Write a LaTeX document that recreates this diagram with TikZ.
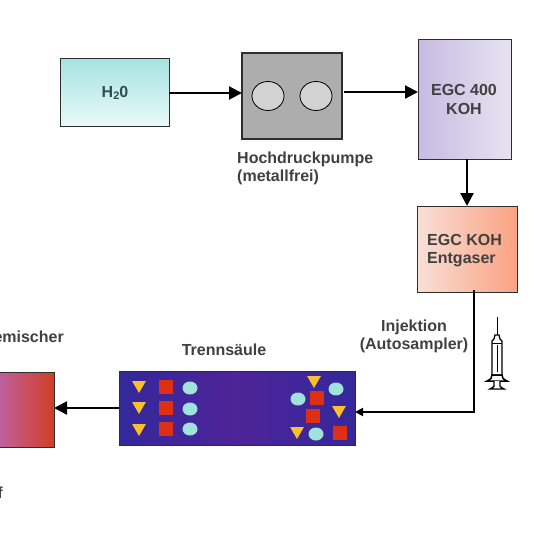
\documentclass[tikz,border=0pt]{standalone}
\usepackage{fontspec}
\setmainfont{Liberation Sans}
\usetikzlibrary{arrows.meta,shapes.geometric}
\definecolor{txt}{HTML}{404040}
\definecolor{edgec}{HTML}{2E2E2E}
\definecolor{tricol}{HTML}{FBBF2D}
\definecolor{sqcol}{HTML}{DC2F14}
\definecolor{circol}{HTML}{A0E2DC}
\definecolor{watertop}{HTML}{A6E3E2}
\definecolor{waterbot}{HTML}{EAF9F9}
\definecolor{pumpcol}{HTML}{ADADAD}
\definecolor{lobecol}{HTML}{D2D2D2}
\definecolor{egcl}{HTML}{C8BAE2}
\definecolor{egcr}{HTML}{E6E3F0}
\definecolor{degl}{HTML}{F8DFD6}
\definecolor{degr}{HTML}{FBA282}
\definecolor{coledge}{HTML}{33289A}
\definecolor{colmid}{HTML}{4E2498}
\definecolor{mixl}{HTML}{BC66B4}
\definecolor{mixr}{HTML}{D03E22}
\tikzset{
  box/.style={draw=edgec,line width=0.85pt,inner sep=0pt,outer sep=0pt,anchor=north west},
  lbl/.style={font=\fontsize{16}{19}\selectfont\bfseries,text=txt,inner sep=0pt},
  flow/.style={line width=2.2pt,black,-{Triangle[length=13pt,width=13pt]}},
  flowsm/.style={line width=1.9pt,black,-{Triangle[length=8pt,width=8pt]}},
  tri/.style={regular polygon,regular polygon sides=3,shape border rotate=180,fill=tricol,minimum size=16pt,inner sep=0pt,yshift=2pt},
  sq/.style={rectangle,fill=sqcol,minimum size=14pt,inner sep=0pt},
  circ/.style={ellipse,fill=circol,minimum width=15pt,minimum height=13pt,inner sep=0pt},
  lobe/.style={ellipse,draw=black,line width=0.8pt,fill=lobecol,minimum width=32pt,minimum height=29pt,inner sep=0pt},
  syr/.style={draw=black,line width=1.3pt,fill=white}
}
\begin{document}
\begin{tikzpicture}[x=1pt,y=-1pt]
\useasboundingbox (0,0) rectangle (540,539);
\clip (0,0) rectangle (540,539);
% boxes
\node[box,minimum width=109pt,minimum height=68pt,top color=watertop,bottom color=waterbot] (water) at (60,58) {};
\node[lbl,text=txt!75!teal] (waterlbl) at (115,93) {H\raisebox{-2.5pt}{\fontsize{11}{11}\selectfont 2}0};
\node[box,line width=1.1pt,minimum width=100pt,minimum height=86pt,fill=pumpcol] (pump) at (242,53) {};
\node[lobe] (p1) at (268,96) {};
\node[lobe] (p2) at (316,96) {};
\node[lbl,anchor=west] (pumplbla) at (237,159) {Hochdruckpumpe};
\node[lbl,anchor=west] (pumplblb) at (237,177) {(metallfrei)};
\node[box,minimum width=93pt,minimum height=120pt,left color=egcl,right color=egcr] (egc) at (418,39) {};
\node[lbl,align=center] (egclbl) at (464,99) {EGC 400\\KOH};
\node[box,minimum width=100pt,minimum height=86pt,left color=degl,right color=degr] (degas) at (417,206) {};
\node[lbl,anchor=west] (degasa) at (427,240) {EGC KOH};
\node[lbl,anchor=west] (degasb) at (427,260) {Entgaser};
\node[box,minimum width=236pt,minimum height=74pt,left color=coledge,right color=coledge,middle color=colmid] (column) at (119,371) {};
\node[lbl] (collbl) at (224,349.5) {Trennsäule};
\node[box,minimum width=64pt,minimum height=75pt,left color=mixl,right color=mixr] (mixer) at (-10,372) {};
\node[lbl,anchor=east] (mixlbl) at (64,337) {emischer};
\node[lbl,anchor=east] (flbl) at (3,493) {f};
\node[lbl] (inja) at (414,327) {Injektion};
\node[lbl] (injb) at (414,345) {(Autosampler)};
% connectors
\draw[flow] (water.east |- 0,93) -- (pump.west |- 0,93);
\draw[flow] ([xshift=2pt]pump.east |- 0,92) -- (egc.west |- 0,92);
\draw[flow] (egc.south -| 467,0) -- (degas.north -| 467,0);
\coordinate (corner) at (474,412);
\draw[flowsm,line join=miter] ([yshift=2pt]degas.south -| corner) -- (corner) -- (column.east |- corner);
\draw[flow] (column.west |- 0,408) -- (mixer.east |- 0,408);
% column contents
\foreach \y in {387,408,430} \node[tri] at (139,\y) {};
\foreach \y in {387,408,429} \node[sq] at (166,\y) {};
\foreach \y in {388,409,429} \node[circ] at (190,\y) {};
\foreach \x/\y in {314/382,339/412,297/433} \node[tri] at (\x,\y) {};
\foreach \x/\y in {317/398,313/416,340/433} \node[sq] at (\x,\y) {};
\foreach \x/\y in {298/399,336/389,316/434} \node[circ] at (\x,\y) {};
% syringe
\draw[line width=0.9pt] (497,317) -- (497,335);
\draw[syr] (495,335) -- (499,335) -- (500,339) -- (502,341) -- (502,375) -- (492,375) -- (492,341) -- (494,339) -- cycle;
\draw[line width=0.6pt] (492,343) -- (502,343);
\draw[line width=1pt] (497,345) -- (497,372);
\draw[syr,line width=1.5pt] (487,381) .. controls (491,379) and (492,378) .. (492,375) -- (502,375) .. controls (502,378) and (503,379) .. (507,381) -- cycle;
\draw[syr,line width=1.4pt] (494,381) -- (494,386) .. controls (494,387) and (492,388) .. (490,389) -- (504,389) .. controls (502,388) and (500,387) .. (500,386) -- (500,381);
\end{tikzpicture}
\end{document}
